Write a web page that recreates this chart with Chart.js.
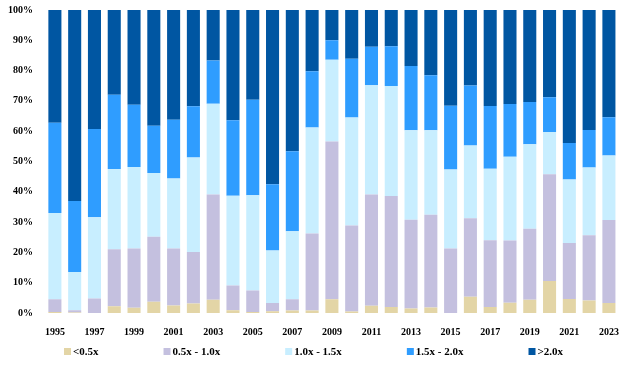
<!DOCTYPE html>
<html>
<head>
<meta charset="utf-8">
<script src="https://cdn.jsdelivr.net/npm/chart.js@4"></script>
<style>
  html, body { margin: 0; padding: 0; background: #fff; }
  #wrap { width: 624px; height: 375px; }
</style>
</head>
<body>
<div id="wrap"><canvas id="chart" width="624" height="375"></canvas></div>
<script>
// years on the x axis
var years = [1995, 1996, 1997, 1998, 1999, 2000, 2001, 2002, 2003, 2004,
  2005, 2006, 2007, 2008, 2009, 2010, 2011, 2012, 2013, 2014,
  2015, 2016, 2017, 2018, 2019, 2020, 2021, 2022, 2023];

// share of each bucket, %
var under05 = [0.3, 0.2, 0, 2.2, 1.7, 3.7, 2.5, 3.1, 4.4, 0.9,
  0.3, 0.6, 0.8, 0.8, 4.5, 0.5, 2.4, 2.0, 1.5, 1.8,
  0, 5.4, 2.0, 3.4, 4.4, 10.6, 4.6, 4.1, 3.3];
var from05to10 = [4.2, 0.7, 4.8, 18.8, 19.6, 21.5, 18.8, 17.0, 34.7, 8.2,
  7.1, 2.7, 3.7, 25.4, 52.1, 28.4, 36.7, 36.6, 29.3, 30.6,
  21.3, 25.9, 22.0, 20.5, 23.4, 35.2, 18.5, 21.6, 27.4];
var from10to15 = [28.5, 12.6, 26.8, 26.5, 26.9, 21.0, 23.1, 31.2, 30.0, 29.6,
  31.5, 17.3, 22.5, 35.0, 27.0, 35.6, 36.1, 36.3, 29.5, 27.9,
  26.1, 24.0, 23.6, 27.7, 27.9, 13.9, 21.0, 22.3, 21.3];
var from15to20 = [29.8, 23.5, 29.1, 24.5, 20.5, 15.6, 19.4, 16.9, 14.2, 24.9,
  31.5, 21.9, 26.4, 18.6, 6.4, 19.4, 12.7, 13.1, 21.2, 18.2,
  21.0, 19.8, 20.7, 17.4, 13.9, 11.5, 12.0, 12.4, 12.6];
var over20 = [37.2, 63.0, 39.3, 28.0, 31.3, 38.2, 36.2, 31.8, 16.7, 36.4,
  29.6, 57.5, 46.6, 20.2, 10.0, 16.1, 12.1, 12.0, 18.5, 21.5,
  31.6, 24.9, 31.7, 31.0, 30.4, 28.8, 43.9, 39.6, 35.4];

var seriesNames = ['<0.5x', '0.5x - 1.0x', '1.0x - 1.5x', '1.5x - 2.0x', '>2.0x'];
var seriesColors = ['#E3D5A6', '#C4C0DF', '#C8EEFF', '#2F9DFF', '#0056A2'];

var tickFont = { family: '"Liberation Serif", "Times New Roman", serif', size: 10, weight: 'bold' };

var allSeries = [under05, from05to10, from10to15, from15to20, over20];
var datasets = allSeries.map(function(vals, i) {
  return {
    label: seriesNames[i],
    data: vals,
    backgroundColor: seriesColors[i],
    borderWidth: 0,
    barPercentage: 0.66,
    categoryPercentage: 1.0
  };
});

// legend drawn under the axis, items spaced out evenly
var spreadLegend = {
  id: 'spreadLegend',
  afterDraw: function(chart) {
    var ctx = chart.ctx;
    var x = 64, y = 352, gapAfterText = 65;
    ctx.save();
    ctx.font = 'bold 11px "Liberation Serif", serif';
    ctx.textBaseline = 'middle';
    chart.data.datasets.forEach(function(ds) {
      ctx.fillStyle = ds.backgroundColor;
      ctx.fillRect(x, y - 4, 7, 7);
      ctx.fillStyle = '#000';
      ctx.fillText(ds.label, x + 9, y);
      x += 9 + ctx.measureText(ds.label).width + gapAfterText;
    });
    ctx.restore();
  }
};

new Chart(document.getElementById('chart'), {
  type: 'bar',
  data: { labels: years, datasets: datasets },
  options: {
    responsive: false,
    animation: false,
    layout: { padding: { top: 1, right: 5, bottom: 40, left: 0 } },
    plugins: {
      legend: { display: false },
      tooltip: { enabled: false }
    },
    scales: {
      x: {
        stacked: true,
        grid: { display: false },
        border: { display: false },
        ticks: {
          color: '#000',
          font: tickFont,
          maxRotation: 0,
          autoSkip: false,
          padding: 5,
          callback: function(v, i) { return i % 2 === 0 ? years[i] : ''; }
        },
        afterFit: function(s) { s.height = 22; }
      },
      y: {
        stacked: true,
        min: 0,
        max: 100,
        grid: { display: false },
        border: { display: false },
        ticks: {
          stepSize: 10,
          color: '#000',
          font: tickFont,
          padding: 4,
          callback: function(v) { return v + '%'; }
        },
        afterFit: function(s) { s.width = 45; }
      }
    }
  },
  plugins: [spreadLegend]
});
</script>
</body>
</html>
